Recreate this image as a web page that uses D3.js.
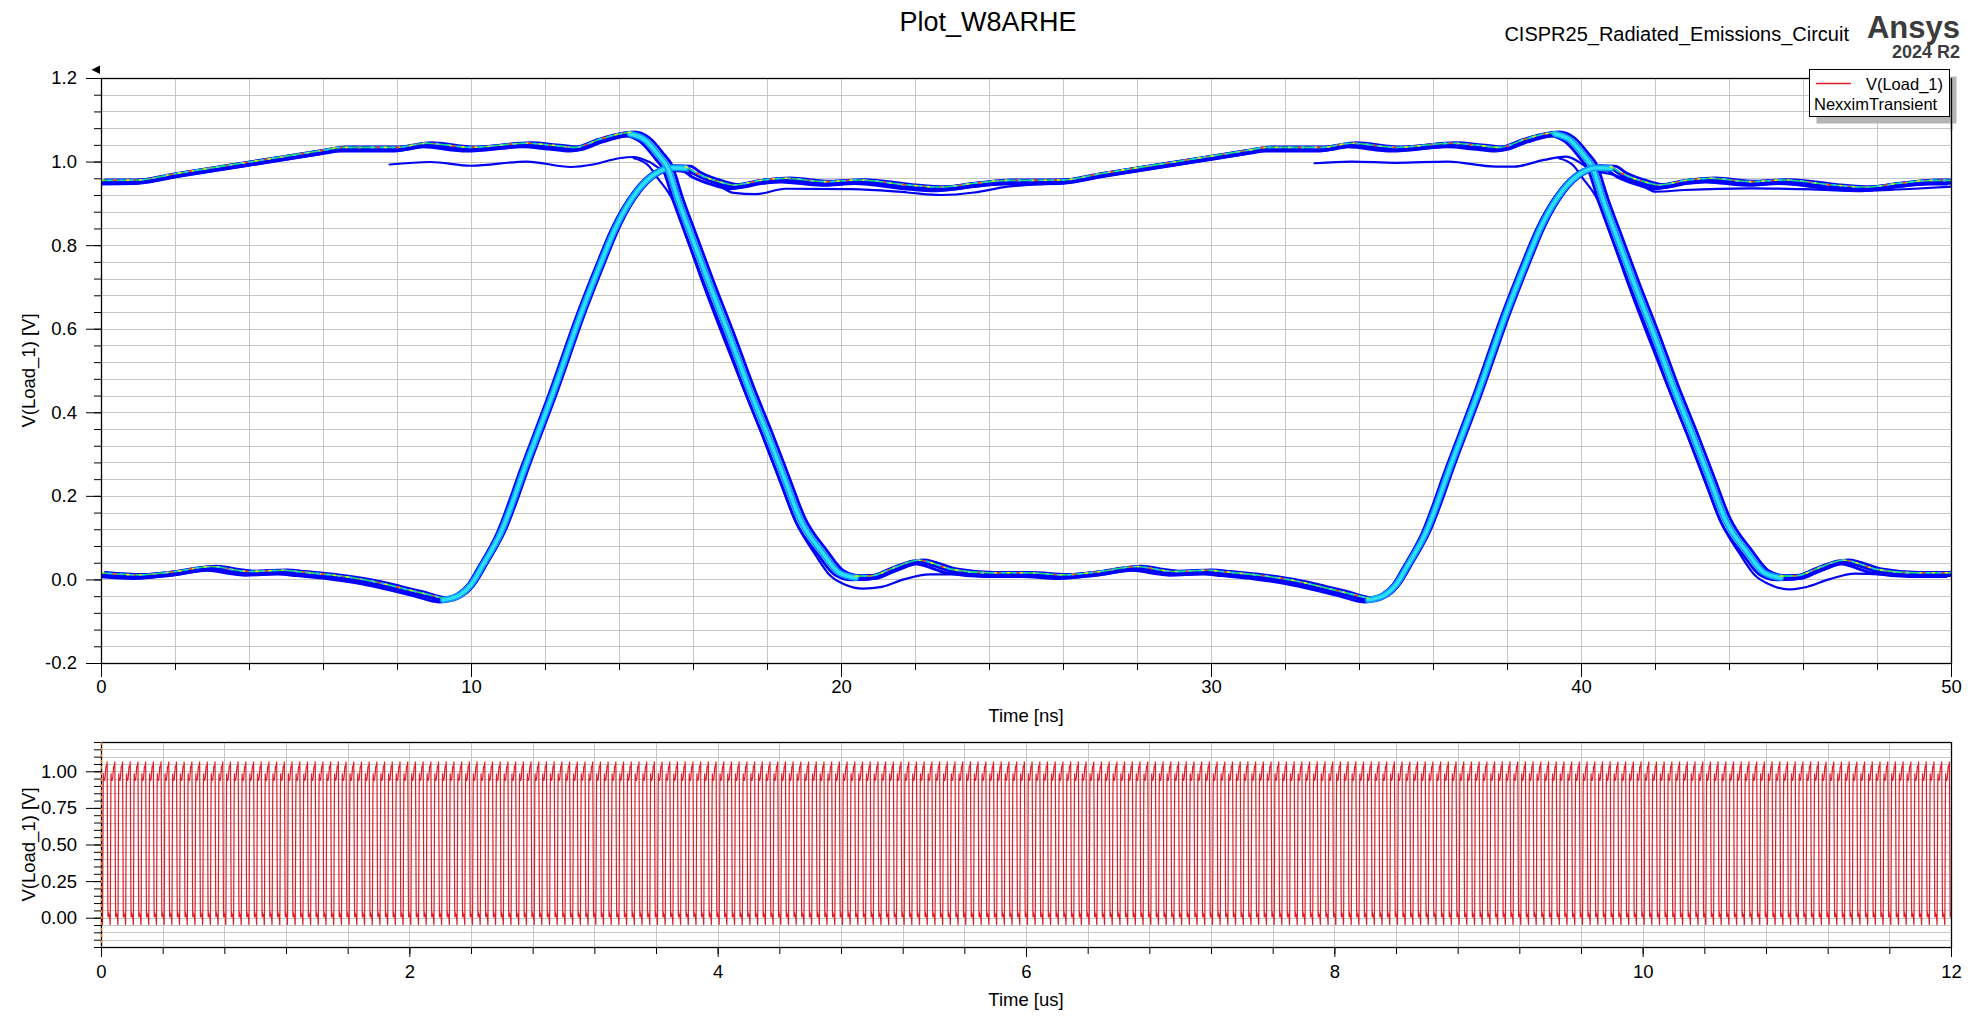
<!DOCTYPE html>
<html><head><meta charset="utf-8">
<script src="https://cdn.jsdelivr.net/npm/d3@7"></script>
<style>
html,body{margin:0;padding:0;background:#fff;}
svg{font-family:"Liberation Sans",Arial,sans-serif;display:block;}
</style></head>
<body>
<svg id="chart" width="1980" height="1020"></svg>
<script>
// ---------------- DATA ----------------
// one 50 ns period of V(Load_1) [V]
const periodTimeNs = [0,1.0,2.0,3.0,3.6,4.0,4.9,5.4,6.3,7.2,
  8.0,8.6,9.25,9.7,10.0,10.3,10.8,11.5,12.2,13.0,
  13.5,13.9,14.5,15.0,15.4,15.8,16.1,16.7,17.1,17.9,
  18.5,19.6,20.5,21.8,22.7,23.6,24.5,25.0,26.0,27.0,
  29.0,31.0,31.5,33.0,33.8,35.0,36.5,37.2,37.8,38.5,
  39.0,39.3,39.7,40.1,40.3,40.6,41.0,41.45,42.0,42.5,
  43.0,43.5,43.9,44.5,44.95,45.4,45.85,46.4,47.1,48.0,
  49.0,50.0];
const periodVolt = [0.012,0.007,0.015,0.027,0.019,0.015,0.018,0.014,0.006,-0.006,
  -0.022,-0.035,-0.049,-0.037,-0.013,0.031,0.111,0.278,0.442,0.642,
  0.755,0.84,0.93,0.972,0.985,0.984,0.968,0.948,0.94,0.952,
  0.956,0.948,0.952,0.94,0.935,0.944,0.951,0.951,0.952,0.967,
  0.995,1.023,1.03,1.03,1.04,1.03,1.04,1.035,1.03,1.05,
  1.062,1.066,1.052,1.012,0.988,0.908,0.812,0.705,0.58,0.46,
  0.35,0.235,0.143,0.064,0.016,0.004,0.005,0.023,0.042,0.02,
  0.012,0.012];
const periodNs = 50;
const cyclesShown = 240;          // 12 us / 50 ns
const eyeFoldNs = 25;             // eye shows two phases 25 ns apart
// edge spans of the period (ns) – rising and falling transitions
const riseSpan = [9.25, 15.8];
const fallSpan = [39.3, 45.4];
// spread of the dense traces in the eye (time ns, volt)
const eyeSpreadDt = [-0.12,-0.06,0,0.06,0.12];
const eyeSpreadDv = [-0.005,0.003,0,-0.003,0.005];

// sparse (low-density) traces in the eye
const outHi1T = [7.8,8.9,10.0,11.5,12.7,13.3,14.0,14.4,14.8,15.2,15.8,16.5,17.1,17.7,18.5,20.3,21.8,22.7,23.6,24.5,25.5];
const outHi1V = [0.993,0.999,0.99,1.0,0.987,0.993,1.008,1.011,1.0,0.98,0.975,0.955,0.925,0.922,0.935,0.934,0.926,0.92,0.926,0.94,0.946];
const outHi2T = [32.8,33.8,35.0,36.4,37.7,38.2,39.0,39.6,40.3,40.9,41.7,42.0,42.8,44.6,46.0,47.5,49.0,50.0];
const outHi2V = [0.996,1.0,0.997,1.0,0.988,0.988,1.004,1.012,0.98,0.968,0.94,0.928,0.932,0.936,0.934,0.93,0.935,0.94];
const outFall1T = [14.4,14.8,15.05,15.45,15.85,16.3,16.85,17.35,17.85,18.35,18.75,19.3,19.7,20.1,20.6,21.1,21.7,22.4,23.2,24.2];
const outFall1V = [1.008,0.99,0.96,0.908,0.812,0.70,0.572,0.46,0.35,0.235,0.143,0.06,0.01,-0.012,-0.022,-0.018,0.0,0.012,0.012,0.01];
const outFall2T = [39.4,39.8,40.05,40.45,40.85,41.3,41.85,42.35,42.85,43.35,43.75,44.3,44.7,45.1,45.6,46.1,46.7,47.4,48.2,49.2];
const outFall2V = [1.008,0.99,0.96,0.908,0.812,0.70,0.572,0.46,0.35,0.235,0.143,0.06,0.01,-0.012,-0.024,-0.018,0.0,0.014,0.012,0.01];

// axes / ticks
const topXTicks = [0,10,20,30,40,50];
const topYTicks = [-0.2,0.0,0.2,0.4,0.6,0.8,1.0,1.2];
const botXTicks = [0,2,4,6,8,10,12];
const botYTicks = [0.0,0.25,0.5,0.75,1.0];

// texts
const titleText = "Plot_W8ARHE";
const designText = "CISPR25_Radiated_Emissions_Circuit";
const brandText = "Ansys";
const versionText = "2024 R2";
const yTitle = "V(Load_1) [V]";
const topXTitle = "Time [ns]";
const botXTitle = "Time [us]";
const legendTrace = "V(Load_1)";
const legendSetup = "NexximTransient";

// ---------------- LAYOUT ----------------
const svg = d3.select("#chart");
const P1 = {l:101, r:1951, t:78, b:663};
const P2 = {l:101, r:1951, t:742, b:947};
const FONT = "18.5px";

const xT = d3.scaleLinear().domain([0,50]).range([P1.l,P1.r]);
const yT = d3.scaleLinear().domain([-0.2,1.2]).range([P1.b,P1.t]);
const xB = d3.scaleLinear().domain([0,12]).range([P2.l,P2.r]);
const yB = d3.scaleLinear().domain([-0.2,1.2]).range([P2.b,P2.t]);

const topXMinor = d3.range(0,26).map(i=>i*2);
const topYMinor = d3.range(0,36).map(i=>+(-0.2+i*0.04).toFixed(3));
const botXMinor = d3.range(0,31).map(i=>+(i*0.4).toFixed(2));
const botYMinor = d3.range(0,29).map(i=>+(-0.2+i*0.05).toFixed(3));

function grid(P,x,y,xs,ys){
  const g = svg.append("g").attr("shape-rendering","crispEdges");
  g.selectAll("line.v").data(xs).join("line")
    .attr("x1",d=>Math.round(x(d))+0.5).attr("x2",d=>Math.round(x(d))+0.5)
    .attr("y1",P.t).attr("y2",P.b).attr("stroke","#c6c6c6").attr("stroke-width",1);
  g.selectAll("line.h").data(ys).join("line")
    .attr("y1",d=>Math.round(y(d))+0.5).attr("y2",d=>Math.round(y(d))+0.5)
    .attr("x1",P.l).attr("x2",P.r).attr("stroke","#c6c6c6").attr("stroke-width",1);
}
grid(P1,xT,yT,topXMinor,topYMinor);
grid(P2,xB,yB,botXMinor,botYMinor);

// clip paths
const defs = svg.append("defs");
defs.append("clipPath").attr("id","clip1").append("rect")
  .attr("x",P1.l).attr("y",P1.t).attr("width",P1.r-P1.l).attr("height",P1.b-P1.t);
defs.append("clipPath").attr("id","clip2").append("rect")
  .attr("x",P2.l).attr("y",P2.t).attr("width",P2.r-P2.l).attr("height",P2.b-P2.t);

// ---------------- EYE (top) ----------------
const phaseB = periodTimeNs.map((t,i)=>[t,periodVolt[i]]);
const phaseA = phaseB.filter(p=>p[0]>=eyeFoldNs).map(p=>[p[0]-eyeFoldNs,p[1]])
  .concat(phaseB.filter(p=>p[0]>0 && p[0]<=eyeFoldNs).map(p=>[p[0]+eyeFoldNs,p[1]]));

const lineT = d3.line().x(d=>xT(d[0])).y(d=>yT(d[1])).curve(d3.curveMonotoneX);
const eye = svg.append("g").attr("clip-path","url(#clip1)").attr("fill","none")
  .attr("stroke-linejoin","round").attr("stroke-linecap","round");

function seg(pts,a,b){ return pts.filter(p=>p[0]>=a-1e-9 && p[0]<=b+1e-9); }
function off(pts,dt,dv){ return pts.map(p=>[p[0]+dt,p[1]+dv]); }
const zip = (T,V)=>T.map((t,i)=>[t,V[i]]);

// sparse traces
[zip(outHi1T,outHi1V),zip(outHi2T,outHi2V),zip(outFall1T,outFall1V),zip(outFall2T,outFall2V)]
  .forEach(pts=>eye.append("path").attr("d",lineT(pts)).attr("stroke","#0000f0").attr("stroke-width",2.2));

const F = eyeFoldNs;
const phases = [
  {pts:phaseB, edges:[riseSpan,fallSpan], flats:[[0,riseSpan[0]],[riseSpan[1],fallSpan[0]],[fallSpan[1],50]]},
  {pts:phaseA, edges:[[fallSpan[0]-F,fallSpan[1]-F],[riseSpan[0]+F,riseSpan[1]+F]],
   flats:[[0,fallSpan[0]-F],[fallSpan[1]-F,riseSpan[0]+F],[riseSpan[1]+F,50]]}
];
// blue outer band
phases.forEach(ph=>{
  eyeSpreadDt.forEach((dt,i)=>{
    eye.append("path").attr("d",lineT(off(ph.pts,dt,eyeSpreadDv[i])))
      .attr("stroke","#0000ff").attr("stroke-width",2.8);
  });
});
// edge cores
phases.forEach(ph=>{
  ph.edges.forEach(s=>{
    const pts = seg(ph.pts,s[0],s[1]);
    eye.append("path").attr("d",lineT(pts)).attr("stroke","#0a9cff").attr("stroke-width",6.5);
    eye.append("path").attr("d",lineT(pts)).attr("stroke","#2ee0f4").attr("stroke-width",3.4);
  });
});
// flat dense cores (high density colours)
phases.forEach(ph=>{
  ph.flats.forEach(s=>{
    const pts = off(seg(ph.pts,s[0],s[1]),0,0.004);
    const d = lineT(pts);
    eye.append("path").attr("d",d).attr("stroke","#12e66a").attr("stroke-width",1.6);
    eye.append("path").attr("d",d).attr("stroke","#f4f000").attr("stroke-width",1.6).attr("stroke-dasharray","2,11");
    eye.append("path").attr("d",d).attr("stroke","#ff2a2a").attr("stroke-width",1.6).attr("stroke-dasharray","2,17").attr("stroke-dashoffset",6);
    eye.append("path").attr("d",d).attr("stroke","#20c8f0").attr("stroke-width",1.6).attr("stroke-dasharray","2,9").attr("stroke-dashoffset",3);
  });
});

// ---------------- TIME DOMAIN (bottom) ----------------
const botPts = [];
for(let k=0;k<cyclesShown;k++){
  for(let i=0;i<periodTimeNs.length-1;i++){
    botPts.push([(k*periodNs+periodTimeNs[i])/1000, periodVolt[i]]);
  }
}
botPts.push([cyclesShown*periodNs/1000, periodVolt[periodVolt.length-1]]);
const lineB = d3.line().x(d=>xB(d[0])).y(d=>yB(d[1]));
svg.append("g").attr("clip-path","url(#clip2)").append("path")
  .attr("d",lineB(botPts)).attr("fill","none").attr("stroke","#e01e28").attr("stroke-width",1.2);

// ---------------- AXES ----------------
const dash = f => d => f(d).replace("\u2212","-");
function axes(P,x,y,o){
  const g = svg.append("g");
  g.append("g").attr("transform",`translate(0,${P.b})`)
    .call(d3.axisBottom(x).tickValues(o.xMinor).tickSize(7).tickFormat("").tickSizeOuter(0));
  g.append("g").attr("transform",`translate(0,${P.b})`)
    .call(d3.axisBottom(x).tickValues(o.xMajor).tickSize(o.xLen).tickPadding(o.xPad).tickFormat(o.xFmt).tickSizeOuter(0));
  g.append("g").attr("transform",`translate(${P.l},0)`)
    .call(d3.axisLeft(y).tickValues(o.yMinor).tickSize(7).tickFormat("").tickSizeOuter(0));
  g.append("g").attr("transform",`translate(${P.l},0)`)
    .call(d3.axisLeft(y).tickValues(o.yMajor).tickSize(15).tickPadding(9).tickFormat(o.yFmt).tickSizeOuter(0));
  g.selectAll("text").attr("font-family","Liberation Sans, Arial, sans-serif").attr("font-size",FONT).attr("fill","#000");
  g.selectAll("line").attr("stroke","#000");
  g.selectAll(".domain").attr("stroke","#000");
  svg.append("rect").attr("x",P.l+0.5).attr("y",P.t+0.5).attr("width",P.r-P.l).attr("height",P.b-P.t)
    .attr("fill","none").attr("stroke","#000").attr("stroke-width",1.3);
}
axes(P1,xT,yT,{xMinor:topXMinor,xMajor:topXTicks,xLen:14,xPad:3,xFmt:d3.format("d"),
  yMinor:topYMinor,yMajor:topYTicks,yFmt:dash(d3.format(".1f"))});
axes(P2,xB,yB,{xMinor:botXMinor,xMajor:botXTicks,xLen:10,xPad:8,xFmt:d3.format("d"),
  yMinor:botYMinor,yMajor:botYTicks,yFmt:dash(d3.format(".2f"))});

// dashed marker at t=0 in bottom plot
svg.append("line").attr("x1",P2.l+0.5).attr("x2",P2.l+0.5).attr("y1",P2.t).attr("y2",P2.b)
  .attr("stroke","#e07818").attr("stroke-width",1.4).attr("stroke-dasharray","3,3");

// small triangle marker top-left
svg.append("path").attr("d",`M100,65.5 L91.5,69.7 L100,73.9 Z`).attr("fill","#000");

// axis titles
svg.append("text").attr("x",(P1.l+P1.r)/2).attr("y",722).attr("text-anchor","middle")
  .attr("font-size",FONT).text(topXTitle);
svg.append("text").attr("x",(P2.l+P2.r)/2).attr("y",1006).attr("text-anchor","middle")
  .attr("font-size",FONT).text(botXTitle);
[P1,P2].forEach(P=>{
  const cy=(P.t+P.b)/2;
  svg.append("text").attr("transform",`translate(35,${cy}) rotate(-90)`).attr("text-anchor","middle")
    .attr("font-size",FONT).text(yTitle);
});

// header texts
svg.append("text").attr("x",988).attr("y",31).attr("text-anchor","middle").attr("font-size","27px").text(titleText);
svg.append("text").attr("x",1849).attr("y",41).attr("text-anchor","end").attr("font-size","20px").text(designText);
svg.append("text").attr("x",1960).attr("y",38).attr("text-anchor","end").attr("font-size","31px")
  .attr("font-weight","bold").attr("fill","#3c3c3c").text(brandText);
svg.append("text").attr("x",1960).attr("y",58).attr("text-anchor","end").attr("font-size","18px")
  .attr("font-weight","bold").attr("fill","#3c3c3c").text(versionText);

// legend
svg.append("rect").attr("x",1816.5).attr("y",76.5).attr("width",140).attr("height",47).attr("fill","#b4b4b4");
svg.append("line").attr("x1",P1.r+0.5).attr("x2",P1.r+0.5).attr("y1",P1.t).attr("y2",130).attr("stroke","#000").attr("stroke-width",1.3);
const lg2 = svg.append("g");
lg2.append("rect").attr("x",1809.5).attr("y",69.5).attr("width",140).attr("height",47)
  .attr("fill","#fff").attr("stroke","#000").attr("stroke-width",1);
lg2.append("line").attr("x1",1816).attr("x2",1851).attr("y1",83.5).attr("y2",83.5)
  .attr("stroke","#e01e28").attr("stroke-width",1.5);
lg2.append("text").attr("x",1943).attr("y",90).attr("text-anchor","end").attr("font-size","16.5px").text(legendTrace);
lg2.append("text").attr("x",1814).attr("y",110).attr("font-size","16.5px").text(legendSetup);
</script>
</body></html>
